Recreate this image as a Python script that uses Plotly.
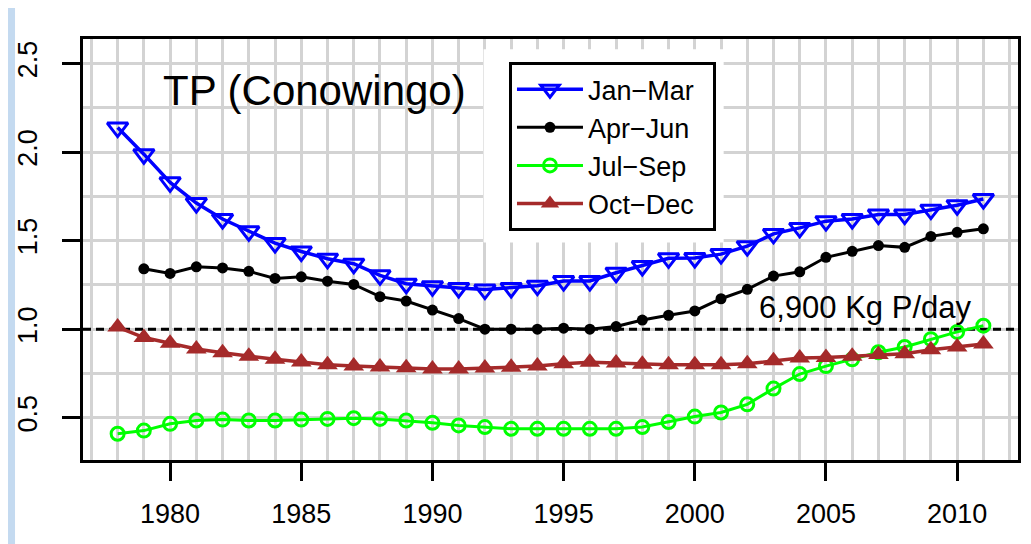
import plotly.graph_objects as go

years = [1978, 1979, 1980, 1981, 1982, 1983, 1984, 1985, 1986, 1987, 1988, 1989,
         1990, 1991, 1992, 1993, 1994, 1995, 1996, 1997, 1998, 1999, 2000, 2001,
         2002, 2003, 2004, 2005, 2006, 2007, 2008, 2009, 2010, 2011]

jan_mar = [2.138, 1.988, 1.829, 1.712, 1.622, 1.553, 1.486, 1.439, 1.398, 1.370,
           1.304, 1.257, 1.243, 1.233, 1.224, 1.233, 1.246, 1.272, 1.272, 1.319,
           1.357, 1.400, 1.402, 1.424, 1.469, 1.538, 1.572, 1.610, 1.622, 1.647,
           1.647, 1.675, 1.700, 1.735]

# Apr-Jun starts in 1979
apr_jun_years = years[1:]
apr_jun = [1.341, 1.315, 1.352, 1.346, 1.327, 1.287, 1.296, 1.271, 1.253,
           1.184, 1.159, 1.108, 1.060, 1.000, 1.000, 1.000, 1.006, 1.000, 1.015,
           1.052, 1.079, 1.103, 1.172, 1.225, 1.300, 1.324, 1.406, 1.440, 1.472,
           1.462, 1.524, 1.547, 1.567]

jul_sep = [0.410, 0.428, 0.466, 0.485, 0.490, 0.485, 0.485, 0.490, 0.494, 0.498,
           0.494, 0.485, 0.472, 0.457, 0.448, 0.438, 0.438, 0.438, 0.438, 0.438,
           0.448, 0.476, 0.507, 0.530, 0.576, 0.665, 0.747, 0.792, 0.830, 0.870,
           0.900, 0.944, 0.985, 1.020]

oct_dec = [1.012, 0.953, 0.921, 0.888, 0.867, 0.848, 0.830, 0.815, 0.800, 0.792,
           0.787, 0.783, 0.775, 0.775, 0.781, 0.785, 0.792, 0.805, 0.813, 0.810,
           0.803, 0.800, 0.800, 0.800, 0.805, 0.822, 0.837, 0.841, 0.848, 0.858,
           0.862, 0.884, 0.900, 0.917]

target = 1.0
target_label = "6,900 Kg P/day"
title_text = "TP (Conowingo)"

FONT = "Liberation Sans, Arial, sans-serif"
GRID = "#d3d3d3"
x_range = [1976.68, 2012.32]
y_range = [0.262, 2.638]
SP = "\u2002"  # a bit of right padding inside the legend box

fig = go.Figure()

# white patch behind legend (hides grid, sits under the data)
px0, px1, py0, py1 = 1991.95, 2001.1, 1.49, 2.58
fig.add_trace(go.Scatter(x=[px0, px1, px1, px0, px0], y=[py0, py0, py1, py1, py0],
                         mode="lines", fill="toself", fillcolor="white",
                         line=dict(width=0, color="white"), hoverinfo="skip", showlegend=False))

# reference load line
fig.add_trace(go.Scatter(x=x_range, y=[target, target], mode="lines", hoverinfo="skip",
                         line=dict(color="black", width=3, dash="8px,5px"), showlegend=False))

fig.add_trace(go.Scatter(x=years, y=jan_mar, name="Jan\u2212Mar" + SP, mode="lines+markers",
                         line=dict(color="#0000ff", width=3.5),
                         marker=dict(symbol="triangle-down-open", size=18, color="#0000ff",
                                     line=dict(width=3))))
fig.add_trace(go.Scatter(x=apr_jun_years, y=apr_jun, name="Apr\u2212Jun" + SP, mode="lines+markers",
                         line=dict(color="black", width=3),
                         marker=dict(symbol="circle", size=11, color="black")))
fig.add_trace(go.Scatter(x=years, y=jul_sep, name="Jul\u2212Sep" + SP, mode="lines+markers",
                         line=dict(color="#00ff00", width=3),
                         marker=dict(symbol="circle-open", size=13, color="#00ff00",
                                     line=dict(width=3))))
fig.add_trace(go.Scatter(x=years, y=oct_dec, name="Oct\u2212Dec" + SP, mode="lines+markers",
                         line=dict(color="#a52a2a", width=3.5),
                         marker=dict(symbol="triangle-up", size=18, color="#a52a2a")))

# light blue page edge on the left
fig.add_shape(type="rect", xref="paper", yref="paper", x0=-0.1, x1=-0.0727, y0=-0.3, y1=1.2,
              fillcolor="#c4daf0", line=dict(width=0), layer="below")

fig.add_annotation(x=1979.65, y=2.35, xref="x", yref="y", text=title_text, showarrow=False,
                   xanchor="left", yanchor="middle", font=dict(size=42, color="black", family=FONT))
fig.add_annotation(x=2006.5, y=1.12, xref="x", yref="y", text=target_label, showarrow=False,
                   xanchor="center", yanchor="middle", font=dict(size=31, color="black", family=FONT))

# page body has an 8px margin, so the figure is 8px smaller and margins shifted
fig.update_layout(
    template="none",
    width=1023, height=536,
    margin=dict(l=75, r=13, t=31, b=84, pad=0),
    paper_bgcolor="white", plot_bgcolor="white",
    font=dict(family=FONT, size=27, color="black"),
    showlegend=True,
    legend=dict(x=0.4556, y=0.945, xanchor="left", yanchor="top",
                bgcolor="white", bordercolor="black", borderwidth=3,
                font=dict(size=27, family=FONT), itemwidth=66, tracegroupgap=0),
)

fig.update_xaxes(range=x_range, tickmode="array", tickvals=[1980, 1985, 1990, 1995, 2000, 2005, 2010],
                 ticks="outside", ticklen=18, tickwidth=2.5, tickcolor="black",
                 showline=True, linecolor="black", linewidth=3, mirror=True, automargin=False,
                 showgrid=True, gridcolor=GRID, gridwidth=2.5, zeroline=False,
                 minor=dict(dtick=1, tick0=1977, showgrid=True, gridcolor=GRID, gridwidth=2.5, ticks=""),
                 ticklabelstandoff=10, tickfont=dict(size=27))
fig.update_yaxes(range=y_range, tickmode="array", tickvals=[0.5, 1.0, 1.5, 2.0, 2.5],
                 ticktext=["0.5", "1.0", "1.5", "2.0", "2.5"], tickangle=-90,
                 ticks="outside", ticklen=18, tickwidth=2.5, tickcolor="black",
                 showline=True, linecolor="black", linewidth=3, mirror=True, automargin=False,
                 showgrid=True, gridcolor=GRID, gridwidth=2.5, zeroline=False,
                 minor=dict(dtick=0.25, tick0=0.25, showgrid=True, gridcolor=GRID, gridwidth=2.5, ticks=""),
                 ticklabelstandoff=14, tickfont=dict(size=27))

fig.write_html("out.html")
